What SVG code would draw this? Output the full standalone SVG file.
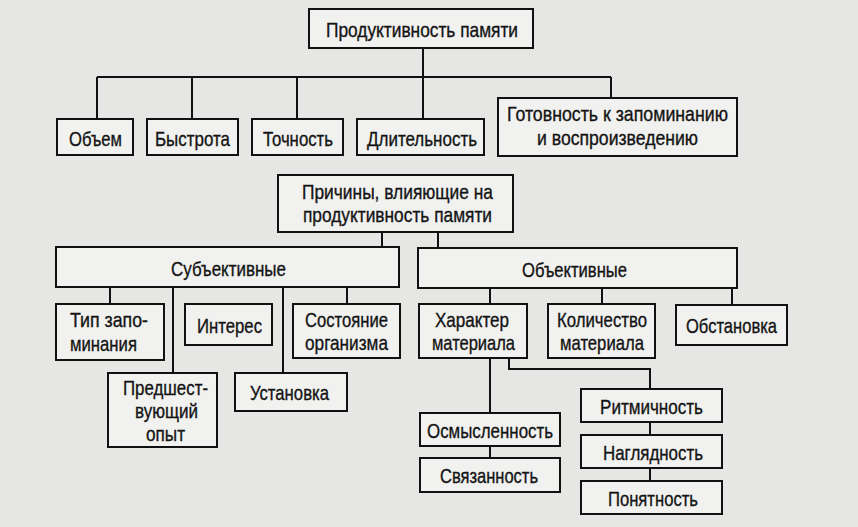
<svg xmlns="http://www.w3.org/2000/svg" width="858" height="527" viewBox="0 0 858 527">
<style>
.b{fill:#f1f1ef;stroke:#111;stroke-width:2}
.c{fill:none;stroke:#111;stroke-width:2}
text{font-family:"Liberation Sans",Arial,sans-serif;font-size:21px;fill:#141414;stroke:#141414;stroke-width:0.35;text-anchor:middle}
</style>
<rect width="858" height="527" fill="#e6e6e4"/>
<g id="connectors">
<path class="c" d="M423 48V119M97 77H611M97 77V119M192 77V119M297 77V119M611 77V98"/>
<path class="c" d="M382 232V247M438 232V248"/>
<path class="c" d="M110 287V304M173 287V373M283 287V373M347 287V304"/>
<path class="c" d="M490 288V304M602 288V304M732 288V305"/>
<path class="c" d="M490 358V413M490 446V458M509 358V369H650V389M650 422V435M650 468V481"/>
</g>
<g id="n-prod"><rect class="b" x="309" y="9" width="224" height="39"/><text x="422" y="37" textLength="192" lengthAdjust="spacingAndGlyphs">Продуктивность памяти</text></g>
<g id="n-obem"><rect class="b" x="57" y="119" width="76" height="36"/><text x="95.5" y="146" textLength="53" lengthAdjust="spacingAndGlyphs">Объем</text></g>
<g id="n-bystr"><rect class="b" x="147" y="119" width="91" height="36"/><text x="192.5" y="146" textLength="75" lengthAdjust="spacingAndGlyphs">Быстрота</text></g>
<g id="n-toch"><rect class="b" x="252" y="119" width="91" height="36"/><text x="298" y="146" textLength="70" lengthAdjust="spacingAndGlyphs">Точность</text></g>
<g id="n-dlit"><rect class="b" x="357" y="119" width="127" height="36"/><text x="422" y="146" textLength="110" lengthAdjust="spacingAndGlyphs">Длительность</text></g>
<g id="n-gotov"><rect class="b" x="498" y="98" width="239" height="58"/><text x="617.5" y="121" textLength="221" lengthAdjust="spacingAndGlyphs">Готовность к запоминанию</text><text x="617.5" y="145" textLength="161" lengthAdjust="spacingAndGlyphs">и воспроизведению</text></g>
<g id="n-prich"><rect class="b" x="278" y="175" width="235" height="57"/><text x="397.5" y="199" textLength="191" lengthAdjust="spacingAndGlyphs">Причины, влияющие на</text><text x="397.5" y="222" textLength="189" lengthAdjust="spacingAndGlyphs">продуктивность памяти</text></g>
<g id="n-subj"><rect class="b" x="56" y="247" width="343" height="40"/><text x="228.5" y="276" textLength="115" lengthAdjust="spacingAndGlyphs">Субъективные</text></g>
<g id="n-obj"><rect class="b" x="418" y="248" width="319" height="40"/><text x="574.5" y="277" textLength="105" lengthAdjust="spacingAndGlyphs">Объективные</text></g>
<g id="n-tip"><rect class="b" x="56" y="304" width="108" height="56"/><text x="109" y="327" textLength="78" lengthAdjust="spacingAndGlyphs">Тип запо-</text><text x="103.5" y="351" textLength="67" lengthAdjust="spacingAndGlyphs">минания</text></g>
<g id="n-inter"><rect class="b" x="185" y="304" width="87" height="41"/><text x="229.5" y="333" textLength="65" lengthAdjust="spacingAndGlyphs">Интерес</text></g>
<g id="n-sost"><rect class="b" x="293" y="304" width="107" height="54"/><text x="346.5" y="327" textLength="83" lengthAdjust="spacingAndGlyphs">Состояние</text><text x="346.5" y="350" textLength="83" lengthAdjust="spacingAndGlyphs">организма</text></g>
<g id="n-predsh"><rect class="b" x="108" y="373" width="109" height="74"/><text x="165.5" y="395" textLength="85" lengthAdjust="spacingAndGlyphs">Предшест-</text><text x="166.5" y="418" textLength="63" lengthAdjust="spacingAndGlyphs">вующий</text><text x="165.5" y="441" textLength="39" lengthAdjust="spacingAndGlyphs">опыт</text></g>
<g id="n-ustan"><rect class="b" x="235" y="373" width="112" height="38"/><text x="289.5" y="400" textLength="79" lengthAdjust="spacingAndGlyphs">Установка</text></g>
<g id="n-harakt"><rect class="b" x="419" y="304" width="108" height="54"/><text x="472" y="327" textLength="74" lengthAdjust="spacingAndGlyphs">Характер</text><text x="473.5" y="350" textLength="83" lengthAdjust="spacingAndGlyphs">материала</text></g>
<g id="n-kolich"><rect class="b" x="548" y="304" width="107" height="54"/><text x="602" y="327" textLength="90" lengthAdjust="spacingAndGlyphs">Количество</text><text x="602" y="350" textLength="84" lengthAdjust="spacingAndGlyphs">материала</text></g>
<g id="n-obstan"><rect class="b" x="676" y="305" width="111" height="40"/><text x="731.5" y="333" textLength="91" lengthAdjust="spacingAndGlyphs">Обстановка</text></g>
<g id="n-ritm"><rect class="b" x="581" y="389" width="141" height="33"/><text x="651.5" y="414" textLength="103" lengthAdjust="spacingAndGlyphs">Ритмичность</text></g>
<g id="n-nagl"><rect class="b" x="581" y="435" width="141" height="33"/><text x="653" y="460" textLength="100" lengthAdjust="spacingAndGlyphs">Наглядность</text></g>
<g id="n-ponyat"><rect class="b" x="581" y="481" width="141" height="33"/><text x="653" y="506" textLength="90" lengthAdjust="spacingAndGlyphs">Понятность</text></g>
<g id="n-osmysl"><rect class="b" x="420" y="413" width="140" height="33"/><text x="490" y="438" textLength="126" lengthAdjust="spacingAndGlyphs">Осмысленность</text></g>
<g id="n-svyaz"><rect class="b" x="420" y="458" width="140" height="34"/><text x="489" y="483" textLength="98" lengthAdjust="spacingAndGlyphs">Связанность</text></g>
</svg>
